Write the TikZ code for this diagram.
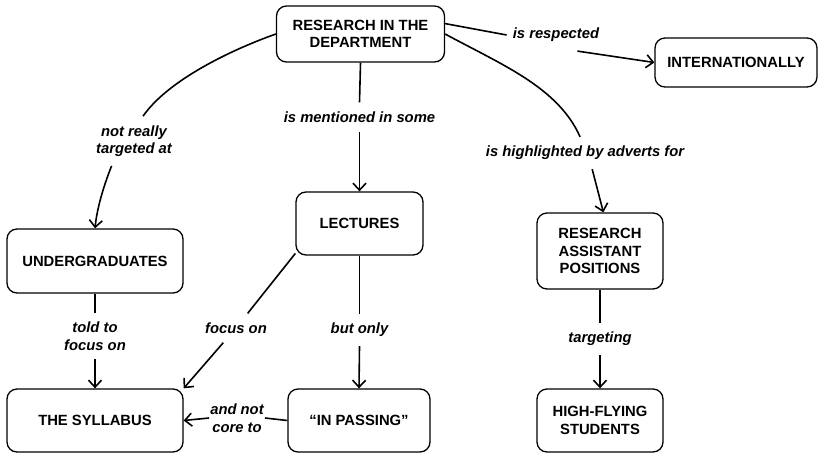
\documentclass[tikz,border=0pt]{standalone}
\usepackage{fontspec}
\setmainfont{Liberation Sans}
\usetikzlibrary{arrows.meta}
\begin{document}
\begin{tikzpicture}[x=1pt,y=-1pt,
  concept/.style={draw, line width=1.3pt, rounded corners=10pt, align=center,
    font=\fontsize{14.8}{17.5}\selectfont\bfseries, inner sep=2pt},
  linkphrase/.style={align=center, font=\fontsize{14.8}{17.5}\selectfont\bfseries\itshape,
    inner xsep=6pt, inner ysep=9pt},
  link/.style={line width=1.6pt},
  linkarrow/.style={link, -{Straight Barb[length=7pt,width=13pt]}}]
\useasboundingbox (0,0) rectangle (818,455);

% concepts
\node[concept, minimum width=168pt, minimum height=56pt] (research) at (360.5,34) {RESEARCH IN THE\\DEPARTMENT};
\node[concept, minimum width=162pt, minimum height=49pt] (intl) at (736,62.5) {INTERNATIONALLY};
\node[concept, minimum width=127pt, minimum height=63pt] (lectures) at (359.5,223.5) {LECTURES};
\node[concept, minimum width=176pt, minimum height=64pt] (undergrad) at (95,261) {UNDERGRADUATES};
\node[concept, minimum width=176pt, minimum height=63pt] (syllabus) at (95,420.5) {THE SYLLABUS};
\node[concept, minimum width=142pt, minimum height=63pt] (passing) at (359,420.5) {“IN PASSING”};
\node[concept, minimum width=126pt, minimum height=76pt] (ra) at (600,251) {RESEARCH\\ASSISTANT\\POSITIONS};
\node[concept, minimum width=126pt, minimum height=63pt] (hf) at (600,420.5) {HIGH-FLYING\\STUDENTS};

% linking phrases
\node[linkphrase] (lblA) at (134,141) {not really\\targeted at};
\node[linkphrase] (lblB) at (359.5,117) {is mentioned in some};
\node[linkphrase] (lblC) at (556,35) {is respected};
\node[linkphrase] (lblD) at (585,153) {is highlighted by adverts for};
\node[linkphrase] (lblE) at (95,336) {told to\\focus on};
\node[linkphrase] (lblF) at (236,328) {focus on};
\node[linkphrase] (lblG) at (359.5,330) {but only};
\node[linkphrase, inner xsep=1pt] (lblH) at (237,418) {and not\\core to};
\node[linkphrase] (lblI) at (600,339) {targeting};

% research in the department
\draw[link] (research.west) .. controls +(-45,16) and +(25,-36) .. (lblA.70);
\draw[linkarrow] (lblA.228) .. controls +(-8,20) and +(2,-20) .. (undergrad.north);
\draw[link] (research.south) -- (lblB.north);
\draw[linkarrow] (lblB.south) -- (lectures.north);
\draw[link] (research.7) -- (lblC.west);
\draw[linkarrow] (lblC.-37) -- (intl.west);
\draw[link] (research.east) .. controls +(55,30) and +(-22,-50) .. (lblD.107);
\draw[linkarrow] (lblD.-66) -- (ra.85);

% undergraduates and lectures
\draw[link] (undergrad.south) -- (lblE.north);
\draw[linkarrow] (lblE.south) -- (syllabus.north);
\draw[link] (lectures.205) -- (lblF);
\draw[linkarrow] (lblF) -- (syllabus.north east);
\draw[link] (lectures.south) -- (lblG.north);
\draw[linkarrow] (lblG.south) -- (passing.north);
\draw[link] (passing.west) -- (lblH.east);
\draw[linkarrow] (lblH.west) -- (syllabus.east);

% research assistant positions
\draw[link] (ra.south) -- (lblI.north);
\draw[linkarrow] (lblI.south) -- (hf.north);
\end{tikzpicture}
\end{document}
